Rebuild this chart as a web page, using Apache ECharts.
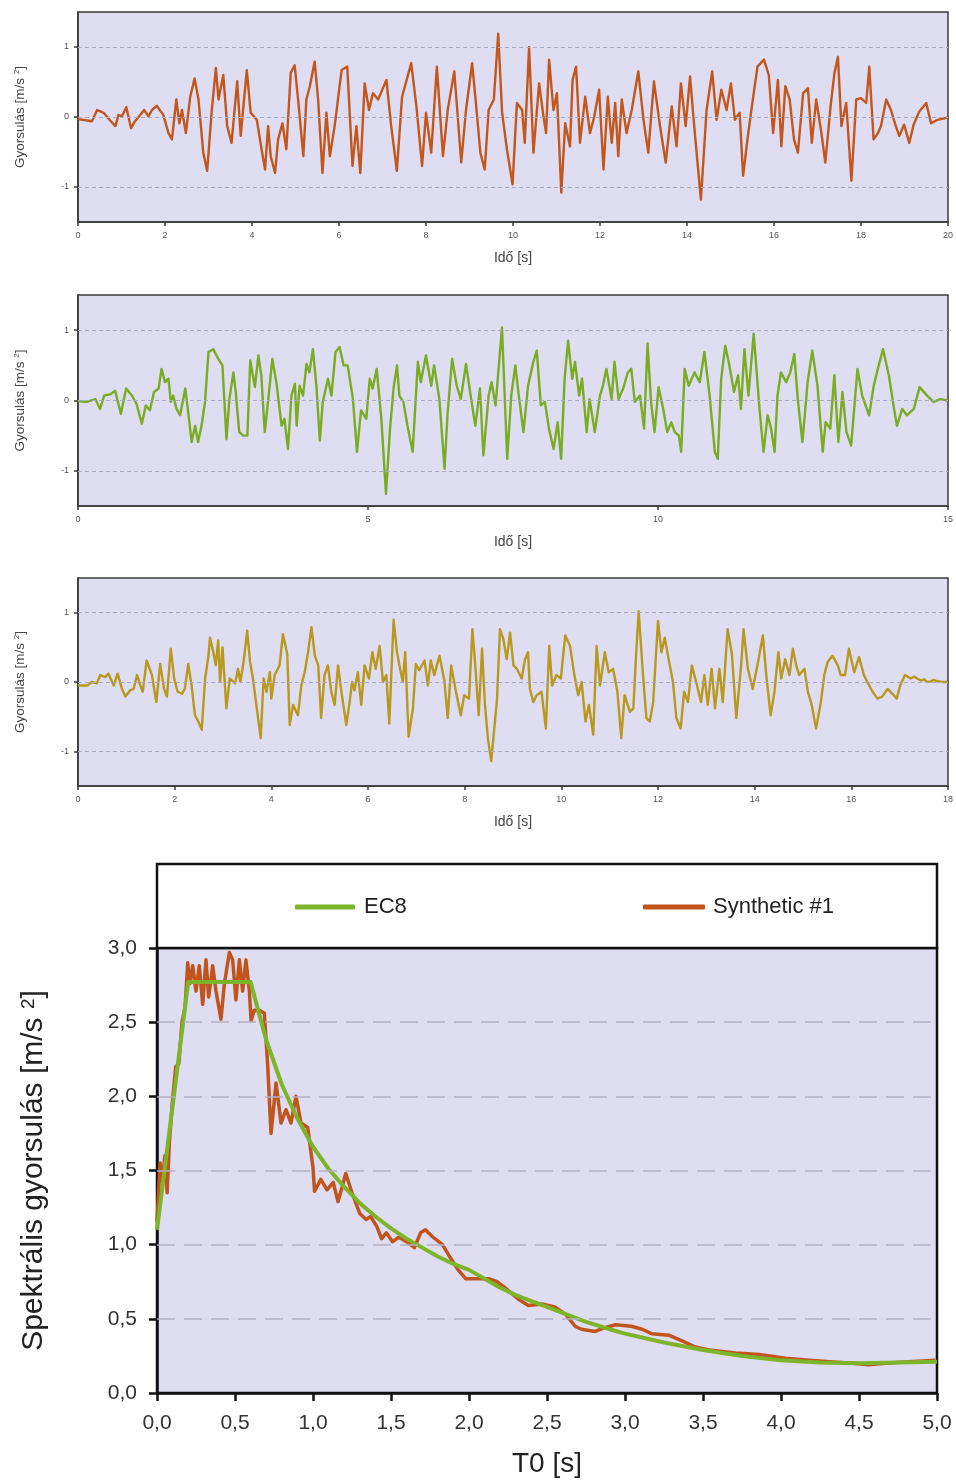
<!DOCTYPE html>
<html>
<head>
<meta charset="utf-8">
<script src="https://cdn.jsdelivr.net/npm/echarts@6/dist/echarts.min.js"></script>
<style>
html,body{margin:0;padding:0;background:#fff;}
#chart{width:956px;height:1484px;}
</style>
</head>
<body>
<div id="chart"></div>
<script>
// ---- Data ----
// Accelerogram 1: [time s, acceleration m/s^2]
const acc1 = [
[0,-0.03],[0.21,-0.05],[0.32,-0.06],[0.44,0.10],[0.59,0.06],[0.74,-0.05],[0.86,-0.13],[0.93,0.03],[1.01,0.01],[1.11,0.14],[1.22,-0.16],[1.31,-0.06],[1.43,0.03],[1.52,0.10],[1.62,0.01],[1.70,0.10],[1.81,0.16],[1.96,0.03],[2.08,-0.23],[2.16,-0.32],[2.26,0.25],[2.33,-0.09],[2.39,0.10],[2.48,-0.23],[2.58,0.29],[2.68,0.55],[2.77,0.25],[2.88,-0.51],[2.97,-0.77],[3.07,0.06],[3.17,0.70],[3.23,0.25],[3.34,0.60],[3.43,-0.13],[3.53,-0.37],[3.66,0.51],[3.74,-0.27],[3.88,0.67],[3.97,0.06],[4.11,-0.04],[4.22,-0.46],[4.30,-0.75],[4.37,-0.13],[4.43,-0.56],[4.53,-0.80],[4.60,-0.32],[4.70,-0.09],[4.79,-0.46],[4.89,0.63],[4.98,0.74],[5.06,0.25],[5.18,-0.56],[5.25,0.25],[5.33,0.44],[5.44,0.79],[5.52,0.25],[5.62,-0.80],[5.71,0.06],[5.79,-0.56],[5.90,-0.13],[6.06,0.67],[6.19,0.72],[6.31,-0.70],[6.40,-0.13],[6.49,-0.80],[6.59,0.48],[6.69,0.10],[6.78,0.34],[6.90,0.25],[7.09,0.53],[7.20,-0.13],[7.33,-0.77],[7.45,0.29],[7.66,0.77],[7.78,0.15],[7.91,-0.70],[8.00,0.06],[8.12,-0.51],[8.25,0.72],[8.39,-0.56],[8.50,0.10],[8.65,0.65],[8.81,-0.65],[8.92,0.10],[9.06,0.77],[9.14,0.25],[9.25,-0.51],[9.35,-0.75],[9.44,0.10],[9.56,0.25],[9.66,1.19],[9.75,0.06],[9.86,-0.46],[9.99,-0.96],[10.09,0.20],[10.21,0.10],[10.27,-0.37],[10.37,1.00],[10.47,-0.51],[10.60,0.48],[10.70,0.01],[10.76,-0.23],[10.83,0.82],[10.93,0.10],[11.01,0.34],[11.11,-1.08],[11.20,-0.09],[11.31,-0.42],[11.37,0.53],[11.45,0.72],[11.54,-0.37],[11.66,0.29],[11.77,-0.23],[11.87,0.01],[11.98,0.39],[12.08,-0.75],[12.18,0.29],[12.27,-0.37],[12.35,0.20],[12.42,-0.56],[12.50,0.25],[12.61,-0.23],[12.73,0.10],[12.88,0.65],[13.00,-0.04],[13.11,-0.51],[13.24,0.51],[13.38,-0.13],[13.51,-0.65],[13.65,0.15],[13.76,-0.42],[13.86,0.48],[13.97,-0.13],[14.07,0.58],[14.18,-0.23],[14.32,-1.18],[14.45,0.10],[14.58,0.65],[14.68,-0.04],[14.79,0.39],[14.91,0.10],[15.01,0.48],[15.10,-0.04],[15.21,0.06],[15.29,-0.84],[15.39,-0.32],[15.48,0.10],[15.62,0.72],[15.77,0.82],[15.88,0.60],[15.98,-0.23],[16.09,0.53],[16.17,-0.42],[16.26,0.44],[16.36,0.25],[16.46,-0.32],[16.55,-0.51],[16.67,0.34],[16.78,0.41],[16.87,-0.37],[16.97,0.25],[17.09,-0.23],[17.18,-0.65],[17.30,0.15],[17.39,0.63],[17.47,0.86],[17.55,-0.13],[17.66,0.20],[17.78,-0.91],[17.89,0.25],[18.00,0.27],[18.12,0.20],[18.19,0.72],[18.29,-0.32],[18.39,-0.23],[18.46,-0.13],[18.58,0.25],[18.69,0.10],[18.78,-0.09],[18.88,-0.27],[18.99,-0.11],[19.11,-0.37],[19.21,-0.11],[19.34,0.08],[19.50,0.20],[19.61,-0.09],[19.76,-0.04],[19.99,-0.01]
];
// Accelerogram 2
const acc2 = [
[0.00,-0.01],[0.15,-0.02],[0.30,0.02],[0.38,-0.12],[0.45,0.07],[0.56,0.09],[0.64,0.14],[0.74,-0.19],[0.83,0.17],[0.93,0.07],[1.01,-0.05],[1.10,-0.33],[1.17,-0.07],[1.24,-0.14],[1.31,0.12],[1.39,0.17],[1.44,0.45],[1.50,0.26],[1.56,0.31],[1.60,-0.02],[1.64,0.07],[1.70,-0.12],[1.76,-0.21],[1.85,0.17],[1.90,-0.17],[1.96,-0.59],[2.02,-0.36],[2.07,-0.59],[2.13,-0.36],[2.19,-0.02],[2.25,0.69],[2.33,0.73],[2.42,0.59],[2.49,0.50],[2.56,-0.55],[2.61,0.02],[2.68,0.40],[2.72,0.12],[2.78,-0.45],[2.85,-0.50],[2.92,-0.50],[2.97,0.57],[3.05,0.19],[3.11,0.64],[3.16,0.36],[3.22,-0.45],[3.30,0.17],[3.35,0.59],[3.42,0.26],[3.51,-0.36],[3.56,-0.26],[3.62,-0.69],[3.68,0.07],[3.74,0.24],[3.77,-0.36],[3.82,0.21],[3.88,0.07],[3.94,0.52],[3.99,0.40],[4.05,0.73],[4.11,0.21],[4.17,-0.57],[4.22,-0.02],[4.31,0.31],[4.37,0.07],[4.44,0.69],[4.51,0.76],[4.58,0.50],[4.65,0.50],[4.74,0.02],[4.81,-0.73],[4.88,-0.14],[4.97,-0.26],[5.03,0.31],[5.08,0.17],[5.15,0.45],[5.23,-0.26],[5.31,-1.33],[5.38,-0.40],[5.44,0.17],[5.50,0.50],[5.54,0.07],[5.61,-0.02],[5.68,-0.36],[5.77,-0.73],[5.86,0.55],[5.91,0.26],[6.00,0.64],[6.09,0.21],[6.14,0.50],[6.23,0.02],[6.32,-0.97],[6.37,-0.21],[6.45,0.59],[6.53,0.21],[6.60,0.02],[6.69,0.52],[6.77,0.07],[6.85,-0.36],[6.93,0.17],[6.99,-0.78],[7.08,0.07],[7.13,0.26],[7.20,-0.07],[7.31,1.04],[7.35,0.21],[7.40,-0.83],[7.47,0.07],[7.54,0.50],[7.60,0.07],[7.68,-0.45],[7.76,0.21],[7.85,0.55],[7.91,0.71],[7.98,-0.07],[8.05,-0.02],[8.12,-0.40],[8.20,-0.69],[8.27,-0.31],[8.33,-0.83],[8.39,0.31],[8.45,0.85],[8.52,0.31],[8.57,0.55],[8.64,0.07],[8.69,0.31],[8.77,-0.45],[8.82,0.02],[8.91,-0.45],[9.00,0.07],[9.05,0.21],[9.11,0.45],[9.20,0.02],[9.25,0.55],[9.32,0.02],[9.40,0.17],[9.48,0.40],[9.54,0.45],[9.60,-0.02],[9.69,0.07],[9.76,-0.40],[9.82,0.81],[9.88,-0.02],[9.94,-0.45],[10.01,0.19],[10.09,-0.12],[10.16,-0.45],[10.23,-0.31],[10.29,-0.45],[10.36,-0.50],[10.40,-0.73],[10.46,0.45],[10.53,0.21],[10.63,0.40],[10.72,0.26],[10.80,0.69],[10.89,0.07],[10.98,-0.73],[11.03,-0.83],[11.09,0.31],[11.16,0.78],[11.23,0.50],[11.31,0.12],[11.38,0.36],[11.43,-0.12],[11.49,0.73],[11.56,0.07],[11.65,0.95],[11.75,-0.12],[11.82,-0.73],[11.89,-0.21],[11.95,-0.40],[12.01,-0.73],[12.06,0.07],[12.12,0.40],[12.21,0.26],[12.28,0.40],[12.35,0.66],[12.41,0.02],[12.49,-0.59],[12.58,0.26],[12.66,0.71],[12.75,0.21],[12.84,-0.73],[12.89,-0.31],[12.97,-0.40],[13.04,0.36],[13.11,-0.59],[13.18,0.12],[13.25,-0.45],[13.33,-0.64],[13.44,0.45],[13.52,0.07],[13.64,-0.21],[13.72,0.21],[13.79,0.45],[13.88,0.73],[13.98,0.36],[14.07,-0.12],[14.12,-0.36],[14.21,-0.12],[14.29,-0.21],[14.41,-0.12],[14.51,0.19],[14.64,0.07],[14.75,-0.02],[14.87,0.02],[14.99,0.00]
];
// Accelerogram 3
const acc3 = [
[0.00,-0.05],[0.19,-0.05],[0.29,0.00],[0.39,-0.02],[0.46,0.10],[0.56,0.07],[0.63,0.12],[0.74,-0.05],[0.82,0.12],[0.91,-0.10],[0.98,-0.21],[1.08,-0.12],[1.15,-0.10],[1.22,0.10],[1.29,-0.05],[1.34,-0.14],[1.42,0.31],[1.53,0.10],[1.62,-0.29],[1.70,0.26],[1.78,-0.10],[1.84,-0.21],[1.92,0.48],[1.99,0.05],[2.06,-0.14],[2.15,-0.17],[2.21,-0.10],[2.28,0.26],[2.35,-0.05],[2.42,-0.48],[2.49,-0.57],[2.56,-0.69],[2.63,0.05],[2.70,0.38],[2.73,0.64],[2.80,0.43],[2.85,0.24],[2.90,0.60],[2.94,0.00],[2.99,0.50],[3.07,-0.38],[3.14,0.05],[3.25,-0.02],[3.31,0.19],[3.36,0.00],[3.43,0.31],[3.50,0.74],[3.56,0.29],[3.62,0.05],[3.69,-0.33],[3.78,-0.81],[3.84,0.05],[3.90,-0.14],[3.97,0.14],[4.00,-0.24],[4.07,0.10],[4.17,0.24],[4.24,0.69],[4.33,0.40],[4.38,-0.62],[4.45,-0.33],[4.55,-0.48],[4.62,-0.05],[4.69,0.14],[4.76,0.43],[4.83,0.79],[4.90,0.38],[4.97,0.24],[5.03,-0.52],[5.10,0.10],[5.17,0.24],[5.24,-0.14],[5.31,-0.33],[5.38,0.24],[5.45,-0.14],[5.55,-0.62],[5.62,-0.29],[5.67,0.00],[5.72,-0.12],[5.79,0.14],[5.86,-0.33],[5.93,0.24],[6.02,0.05],[6.09,0.43],[6.16,0.19],[6.24,0.52],[6.31,0.00],[6.38,0.10],[6.44,-0.60],[6.53,0.90],[6.60,0.43],[6.65,0.24],[6.72,0.00],[6.77,0.43],[6.84,-0.79],[6.93,-0.38],[6.99,0.26],[7.06,0.17],[7.17,0.31],[7.24,-0.05],[7.30,0.31],[7.37,0.10],[7.48,0.38],[7.58,0.02],[7.65,-0.52],[7.72,0.24],[7.82,-0.14],[7.92,-0.48],[7.99,-0.19],[8.09,-0.24],[8.16,0.76],[8.22,0.24],[8.29,-0.48],[8.36,0.48],[8.42,-0.33],[8.48,-0.81],[8.55,-1.14],[8.62,-0.62],[8.67,-0.24],[8.73,0.76],[8.80,0.62],[8.87,0.33],[8.94,0.71],[9.01,0.24],[9.08,0.19],[9.18,0.05],[9.25,0.33],[9.31,0.43],[9.35,-0.10],[9.42,-0.29],[9.49,-0.19],[9.59,-0.14],[9.68,-0.67],[9.75,0.52],[9.81,-0.05],[9.90,0.10],[9.99,0.05],[10.08,0.67],[10.18,0.52],[10.27,0.10],[10.35,-0.19],[10.42,0.00],[10.50,-0.57],[10.57,-0.33],[10.66,-0.76],[10.73,0.52],[10.80,-0.05],[10.90,0.43],[10.98,0.14],[11.07,0.19],[11.16,-0.14],[11.24,-0.81],[11.31,-0.19],[11.42,-0.43],[11.49,-0.38],[11.55,0.43],[11.60,1.02],[11.69,0.10],[11.76,-0.52],[11.83,-0.57],[11.90,-0.29],[12.00,0.88],[12.07,0.43],[12.14,0.64],[12.22,0.33],[12.31,0.00],[12.38,-0.52],[12.47,-0.67],[12.54,-0.14],[12.62,-0.29],[12.70,0.24],[12.79,0.00],[12.89,-0.29],[12.96,0.10],[13.03,-0.33],[13.11,0.19],[13.18,-0.38],[13.27,0.19],[13.34,-0.29],[13.44,0.76],[13.53,0.40],[13.62,-0.52],[13.72,0.24],[13.77,0.76],[13.86,0.19],[13.96,-0.10],[14.07,0.29],[14.17,0.67],[14.24,0.10],[14.33,-0.48],[14.41,-0.14],[14.49,0.43],[14.55,0.05],[14.63,0.33],[14.72,0.10],[14.79,0.48],[14.86,0.24],[14.92,0.10],[15.03,0.19],[15.10,-0.14],[15.18,-0.33],[15.27,-0.67],[15.37,-0.29],[15.44,0.10],[15.51,0.29],[15.61,0.38],[15.72,0.24],[15.78,0.10],[15.87,0.10],[15.95,0.48],[16.06,0.14],[16.16,0.36],[16.26,0.10],[16.33,0.00],[16.44,-0.14],[16.54,-0.24],[16.64,-0.21],[16.75,-0.10],[16.85,-0.17],[16.94,-0.24],[17.01,-0.05],[17.11,0.10],[17.23,0.05],[17.30,0.08],[17.36,0.05],[17.45,0.02],[17.50,0.04],[17.57,0.00],[17.65,0.01],[17.70,0.03],[17.78,0.01],[17.88,0.00],[17.98,0.00]
];
// Response spectrum: EC8 design spectrum [T0 s, Sa m/s^2]
const ec8 = [
[0,1.10],[0.2,2.77],[0.6,2.77],[0.7,2.38],[0.8,2.08],[0.9,1.85],[1.0,1.66],[1.1,1.51],[1.2,1.39],[1.3,1.28],[1.4,1.19],[1.5,1.11],[1.6,1.04],[1.7,0.98],[1.8,0.92],[1.9,0.87],[2.0,0.83],[2.1,0.77],[2.2,0.71],[2.3,0.66],[2.4,0.62],[2.5,0.58],[2.6,0.54],[2.75,0.48],[2.9,0.43],[3.0,0.40],[3.25,0.34],[3.5,0.29],[3.75,0.25],[4.0,0.22],[4.25,0.205],[4.5,0.20],[4.75,0.205],[5.0,0.21]
];
// Response spectrum of Synthetic #1
const synth = [
[0,1.15],[0.02,1.55],[0.035,1.42],[0.05,1.6],[0.065,1.35],[0.08,1.7],[0.1,1.98],[0.12,2.2],[0.14,2.22],[0.16,2.5],[0.18,2.6],[0.197,2.9],[0.21,2.76],[0.229,2.88],[0.25,2.71],[0.271,2.88],[0.293,2.62],[0.314,2.92],[0.331,2.67],[0.357,2.88],[0.378,2.71],[0.41,2.52],[0.432,2.76],[0.464,2.97],[0.485,2.92],[0.506,2.65],[0.528,2.92],[0.549,2.71],[0.57,2.92],[0.592,2.71],[0.603,2.51],[0.624,2.58],[0.656,2.58],[0.688,2.56],[0.709,2.22],[0.731,1.75],[0.763,2.09],[0.795,1.82],[0.827,1.91],[0.859,1.82],[0.891,2.0],[0.923,1.82],[0.966,1.79],[1.0,1.52],[1.01,1.36],[1.05,1.44],[1.09,1.37],[1.13,1.42],[1.16,1.29],[1.19,1.40],[1.21,1.48],[1.25,1.35],[1.30,1.21],[1.34,1.17],[1.37,1.19],[1.41,1.12],[1.44,1.04],[1.47,1.08],[1.51,1.02],[1.55,1.05],[1.60,1.02],[1.65,0.98],[1.69,1.08],[1.72,1.10],[1.77,1.05],[1.83,1.0],[1.87,0.93],[1.93,0.83],[1.98,0.77],[2.04,0.77],[2.13,0.77],[2.18,0.75],[2.23,0.71],[2.32,0.63],[2.38,0.59],[2.47,0.60],[2.55,0.58],[2.62,0.53],[2.68,0.45],[2.72,0.43],[2.81,0.415],[2.87,0.44],[2.94,0.46],[3.04,0.45],[3.11,0.43],[3.17,0.40],[3.28,0.39],[3.37,0.35],[3.45,0.31],[3.54,0.29],[3.71,0.27],[3.86,0.26],[4.03,0.235],[4.18,0.22],[4.31,0.21],[4.46,0.20],[4.56,0.19],[4.67,0.20],[4.82,0.21],[4.99,0.22]
];
const accGridValues = [-1, 0, 1];
const specGridValues = [0.5, 1.0, 1.5, 2.0, 2.5];
const accXMax = [20, 15, 18];
const accXInterval = [2, 5, 2];
const seriesNames = ['EC8', 'Synthetic #1'];

// ---- Styling / layout ----
const FONT = "'Liberation Sans', Arial, Helvetica, sans-serif";
const BG = '#dfddf2';
const accColors = ['#c2561c', '#7aab22', '#b8981e'];
const accData = [acc1, acc2, acc3];
const panelTops = [12, 295, 578];
const panelHeights = [210, 211, 208];

const grids = [], xAxes = [], yAxes = [], series = [];
for (let i = 0; i < 3; i++) {
  grids.push({left: 78, right: 6, top: panelTops[i], height: panelHeights[i], show: true,
    backgroundColor: BG, borderColor: '#3a3a3a', borderWidth: 1.5});
  xAxes.push({type: 'value', gridIndex: i, min: 0, max: accXMax[i], interval: accXInterval[i],
    name: 'Idő [s]', nameLocation: 'middle', nameGap: 29,
    nameTextStyle: {fontFamily: FONT, fontSize: 14, color: '#444'},
    axisLine: {show: true, onZero: false, lineStyle: {color: '#3a3a3a', width: 1.5}},
    axisTick: {show: true, length: 4, lineStyle: {color: '#3a3a3a', width: 1.5}},
    axisLabel: {fontFamily: FONT, fontSize: 9, color: '#555', margin: 9},
    splitLine: {show: false}});
  yAxes.push({type: 'value', gridIndex: i, min: -1.5, max: 1.5,
    name: 'Gyorsulás [m/s {s|2}]', nameLocation: 'middle', nameGap: 51, nameRotate: 90,
    nameTextStyle: {fontFamily: FONT, fontSize: 13.5, color: '#444',
      rich: {s: {fontFamily: FONT, fontSize: 8, color: '#444', verticalAlign: 'top', lineHeight: 13}}},
    axisLine: {show: true, onZero: false, lineStyle: {color: '#3a3a3a', width: 1.5}},
    axisTick: {show: true, length: 4, customValues: accGridValues, lineStyle: {color: '#3a3a3a', width: 1.5}},
    axisLabel: {fontFamily: FONT, fontSize: 9, color: '#555', margin: 9, customValues: accGridValues},
    splitLine: {show: false}});
  series.push({type: 'line', name: 'grid' + i, xAxisIndex: i, yAxisIndex: i, data: [], silent: true, z: 1,
    markLine: {silent: true, symbol: ['none', 'none'], label: {show: false}, animation: false,
      lineStyle: {color: '#aca9c2', type: [4, 3], width: 1},
      data: accGridValues.map(v => ({yAxis: v}))}});
  series.push({type: 'line', name: 'acc' + (i + 1), xAxisIndex: i, yAxisIndex: i, data: accData[i],
    showSymbol: false, symbol: 'none', z: 3,
    lineStyle: {color: accColors[i], width: 2.4, join: 'round'}});
}

// spectrum panel
grids.push({left: 157, right: 19, top: 948, height: 445, show: true,
  backgroundColor: BG, borderColor: '#111', borderWidth: 2.5});
const comma = v => v.toFixed(1).replace('.', ',');
xAxes.push({type: 'value', gridIndex: 3, min: 0, max: 5, interval: 0.5,
  name: 'T0 [s]', nameLocation: 'middle', nameGap: 57,
  nameTextStyle: {fontFamily: FONT, fontSize: 28, color: '#222'},
  axisLine: {show: true, onZero: false, lineStyle: {color: '#111', width: 2.5}},
  axisTick: {show: true, length: 8, lineStyle: {color: '#111', width: 2.5}},
  axisLabel: {fontFamily: FONT, fontSize: 21, color: '#333', margin: 20, formatter: comma},
  splitLine: {show: false}});
yAxes.push({type: 'value', gridIndex: 3, min: 0, max: 3, interval: 0.5,
  name: 'Spektrális gyorsulás [m/s {s|2}]', nameLocation: 'middle', nameGap: 108, nameRotate: 90,
  nameTextStyle: {fontFamily: FONT, fontSize: 30, color: '#222',
    rich: {s: {fontFamily: FONT, fontSize: 19, color: '#222', verticalAlign: 'top', lineHeight: 30}}},
  axisLine: {show: true, onZero: false, lineStyle: {color: '#111', width: 2.5}},
  axisTick: {show: true, length: 8, lineStyle: {color: '#111', width: 2.5}},
  axisLabel: {fontFamily: FONT, fontSize: 21, color: '#333', margin: 20, formatter: comma},
  splitLine: {show: false}});
series.push({type: 'line', name: 'specgrid', xAxisIndex: 3, yAxisIndex: 3, data: [], silent: true, z: 1,
  markLine: {silent: true, symbol: ['none', 'none'], label: {show: false}, animation: false,
    lineStyle: {color: '#b4b0c4', type: [18, 9], width: 1.5},
    data: specGridValues.map(v => ({yAxis: v}))}});
series.push({type: 'line', name: seriesNames[1], xAxisIndex: 3, yAxisIndex: 3, data: synth,
  showSymbol: false, symbol: 'none', z: 3, color: '#c0541c',
  lineStyle: {color: '#c0541c', width: 3.5, join: 'round'}});
series.push({type: 'line', name: seriesNames[0], xAxisIndex: 3, yAxisIndex: 3, data: ec8,
  showSymbol: false, symbol: 'none', z: 4, color: '#7cb52a',
  lineStyle: {color: '#7cb52a', width: 4, join: 'round'}});

const chart = echarts.init(document.getElementById('chart'), null, {renderer: 'canvas'});
chart.setOption({
  animation: false,
  backgroundColor: '#fff',
  grid: grids, xAxis: xAxes, yAxis: yAxes, series: series,
  graphic: [{type: 'rect', z: 0, silent: true,
    shape: {x: 157, y: 864, width: 780, height: 84},
    style: {fill: '#fff', stroke: '#111', lineWidth: 2.5}}],
  legend: [
    {data: [seriesNames[0]], left: 295, top: 896, padding: 0, icon: 'roundRect', itemWidth: 60, itemHeight: 5,
      textStyle: {fontFamily: FONT, fontSize: 22, color: '#222', padding: [0, 0, 0, 4]}},
    {data: [seriesNames[1]], left: 643, top: 896, padding: 0, icon: 'roundRect', itemWidth: 62, itemHeight: 5,
      textStyle: {fontFamily: FONT, fontSize: 22, color: '#222', padding: [0, 0, 0, 3]}}
  ]
});
</script>
</body>
</html>
